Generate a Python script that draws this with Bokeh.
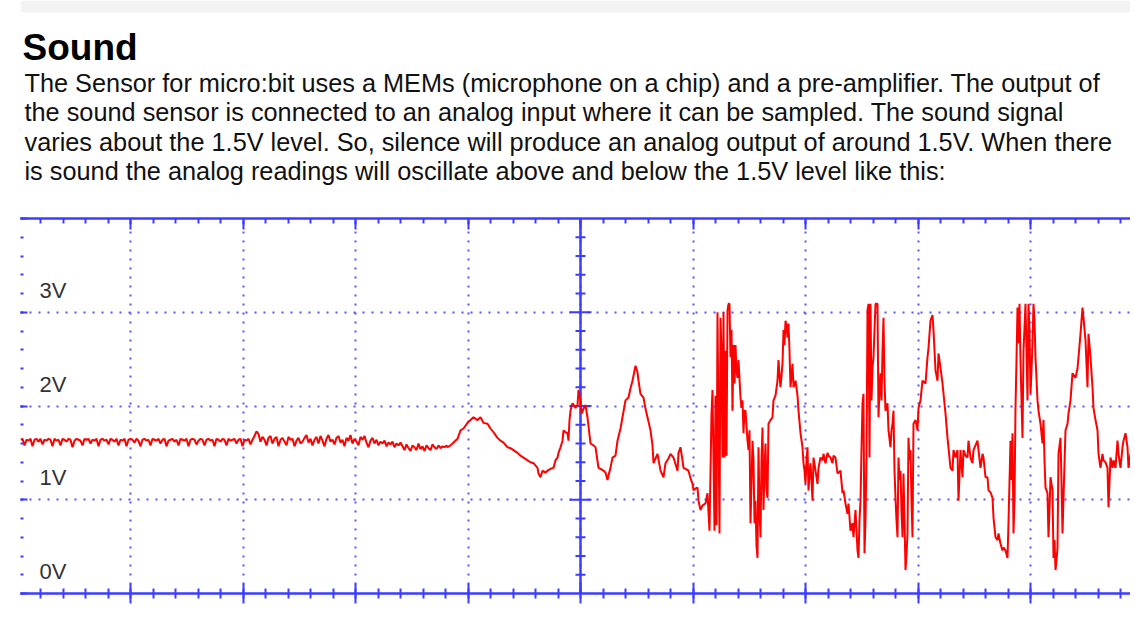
from bokeh.plotting import figure
from bokeh.layouts import column
from bokeh.models import (LinearAxis, SingleIntervalTicker, CustomJSTickFormatter,
                          Span, Range1d)
from bokeh.core.properties import value
from bokeh.embed import file_html
from bokeh.resources import INLINE

# ---------------- text content ----------------
title_text = "Sound"
paragraph_lines = [
    "The Sensor for micro:bit uses a MEMs (microphone on a chip) and a pre-amplifier. The output of",
    "the sound sensor is connected to an analog input where it can be sampled. The sound signal",
    "varies about the 1.5V level. So, silence will produce an analog output of around 1.5V. When there",
    "is sound the analog readings will oscillate above and below the 1.5V level like this:",
]
volt_levels = [0, 1, 2, 3]
volt_labels = ["0V", "1V", "2V", "3V"]

# ---------------- trace data (time in ms, voltage in V) ----------------
t_quiet = [
    -5.60, -5.58, -5.56, -5.54, -5.52, -5.50, -5.48, -5.46, -5.44, -5.42,
    -5.40, -5.38, -5.36, -5.34, -5.32, -5.30, -5.28, -5.26, -5.24, -5.22,
    -5.20, -5.18, -5.16, -5.14, -5.12, -5.10, -5.08, -5.06, -5.04, -5.02,
    -5.00, -4.98, -4.96, -4.94, -4.92, -4.90, -4.88, -4.86, -4.84, -4.82,
    -4.80, -4.78, -4.76, -4.74, -4.72, -4.70, -4.68, -4.66, -4.64, -4.62,
    -4.60, -4.58, -4.56, -4.54, -4.52, -4.50, -4.48, -4.46, -4.44, -4.42,
    -4.40, -4.38, -4.36, -4.34, -4.32, -4.30, -4.28, -4.26, -4.24, -4.22,
    -4.20, -4.18, -4.16, -4.14, -4.12, -4.10, -4.08, -4.06, -4.04, -4.02,
    -4.00, -3.98, -3.96, -3.94, -3.92, -3.90, -3.88, -3.86, -3.84, -3.82,
    -3.80, -3.78, -3.76, -3.74, -3.72, -3.70, -3.68, -3.66, -3.64, -3.62,
    -3.60, -3.58, -3.56, -3.54, -3.52, -3.50, -3.48, -3.46, -3.44, -3.42,
    -3.40, -3.38, -3.36, -3.34, -3.32, -3.30, -3.28, -3.26, -3.24, -3.22,
    -3.20, -3.18, -3.16, -3.14, -3.12, -3.10, -3.08, -3.06, -3.04, -3.02,
    -3.00, -2.98, -2.96, -2.94, -2.92, -2.90, -2.88, -2.86, -2.84, -2.82,
    -2.80, -2.78, -2.76, -2.74, -2.72, -2.70, -2.68, -2.66, -2.64, -2.62,
    -2.60, -2.58, -2.56, -2.54, -2.52, -2.50, -2.48, -2.46, -2.44, -2.42,
    -2.40, -2.38, -2.36, -2.34, -2.32, -2.30, -2.28, -2.26, -2.24, -2.22,
    -2.20, -2.18, -2.16, -2.14, -2.12, -2.10, -2.08, -2.06, -2.04, -2.02,
    -2.00, -1.98, -1.96, -1.94, -1.92, -1.90, -1.88, -1.86, -1.84, -1.82,
    -1.80, -1.78, -1.76, -1.74, -1.72, -1.70, -1.68, -1.66, -1.64, -1.62,
    -1.60, -1.58, -1.56, -1.54, -1.52, -1.50, -1.48, -1.46, -1.44, -1.42,
    -1.40, -1.38, -1.36, -1.34,
]
v_quiet = [
    1.64, 1.65, 1.58, 1.64, 1.63, 1.65, 1.57, 1.64, 1.65, 1.62,
    1.65, 1.59, 1.64, 1.63, 1.65, 1.64, 1.57, 1.65, 1.63, 1.64,
    1.58, 1.65, 1.64, 1.62, 1.65, 1.64, 1.56, 1.63, 1.65, 1.64,
    1.63, 1.58, 1.65, 1.64, 1.65, 1.60, 1.64, 1.63, 1.65, 1.57,
    1.64, 1.65, 1.63, 1.64, 1.59, 1.65, 1.64, 1.62, 1.65, 1.58,
    1.64, 1.63, 1.65, 1.57, 1.64, 1.65, 1.64, 1.61, 1.65, 1.63,
    1.57, 1.64, 1.65, 1.63, 1.64, 1.58, 1.65, 1.64, 1.63, 1.65,
    1.60, 1.64, 1.65, 1.57, 1.63, 1.64, 1.65, 1.62, 1.64, 1.58,
    1.65, 1.64, 1.63, 1.65, 1.57, 1.64, 1.65, 1.64, 1.59, 1.63,
    1.65, 1.64, 1.58, 1.64, 1.65, 1.63, 1.64, 1.57, 1.65, 1.64,
    1.62, 1.65, 1.64, 1.58, 1.65, 1.63, 1.64, 1.65, 1.60, 1.64,
    1.65, 1.57, 1.64, 1.63, 1.65, 1.59,
    1.64, 1.68, 1.73, 1.70, 1.62, 1.67, 1.64, 1.58, 1.66, 1.68,
    1.60, 1.65, 1.67, 1.57, 1.64, 1.66, 1.62, 1.58, 1.67, 1.64,
    1.65, 1.57, 1.63, 1.66, 1.60,
    1.62, 1.66, 1.69, 1.61, 1.65, 1.58, 1.64, 1.67, 1.60, 1.68,
    1.63, 1.57, 1.65, 1.69, 1.62, 1.64, 1.59, 1.66, 1.68, 1.61,
    1.64, 1.57, 1.66, 1.63, 1.69, 1.60, 1.65, 1.62, 1.58, 1.67,
    1.64, 1.68, 1.61, 1.56, 1.63, 1.66, 1.60, 1.64, 1.58, 1.62,
    1.60, 1.63, 1.57, 1.61, 1.59, 1.62, 1.56, 1.60, 1.58, 1.61,
    1.57, 1.53, 1.59, 1.55, 1.52, 1.58, 1.56, 1.53, 1.60, 1.54,
    1.57, 1.52, 1.58, 1.55, 1.53, 1.59, 1.56, 1.54, 1.58, 1.55,
    1.57, 1.56, 1.58,
]

t_active = [
    -1.33, -1.30, -1.27, -1.23, -1.20, -1.17, -1.13, -1.10, -1.07, -1.03,
    -1.00, -0.97, -0.93, -0.90, -0.87, -0.83, -0.80, -0.77, -0.73, -0.70,
    -0.67, -0.63, -0.60, -0.57, -0.53, -0.50, -0.47, -0.43, -0.42, -0.40,
    -0.38, -0.35, -0.33, -0.30, -0.27, -0.25, -0.23, -0.22, -0.20, -0.18,
    -0.17, -0.15, -0.13, -0.12, -0.11, -0.10, -0.08, -0.05, -0.03, -0.02,
    0.00, 0.01, 0.03, 0.05, 0.07, 0.10, 0.13, 0.15, 0.18, 0.20,
    0.23, 0.25, 0.27, 0.28, 0.30, 0.32, 0.35, 0.37, 0.40, 0.42,
    0.45, 0.48, 0.50, 0.52, 0.55, 0.57, 0.58, 0.60, 0.63, 0.65,
    0.67, 0.70, 0.72, 0.73, 0.75, 0.77, 0.80, 0.83, 0.85, 0.88,
    0.90, 0.93, 0.97, 0.98, 1.00, 1.02, 1.03, 1.05, 1.08, 1.10,
    1.12, 1.13, 1.15, 1.17, 1.18, 1.20, 1.22, 1.25, 1.27, 1.29,
    1.31, 1.32, 1.34, 1.35, 1.36, 1.37, 1.39, 1.40, 1.41, 1.42,
    1.43, 1.44, 1.45, 1.46, 1.47, 1.48, 1.49, 1.50, 1.51, 1.52,
    1.53, 1.54, 1.55, 1.56, 1.57, 1.58, 1.60, 1.61, 1.62, 1.63,
    1.64, 1.65, 1.67, 1.68, 1.69, 1.70, 1.71, 1.72, 1.73, 1.74,
    1.75, 1.76, 1.77, 1.78, 1.79, 1.80, 1.81, 1.82, 1.83, 1.84,
    1.85, 1.86, 1.87, 1.88, 1.90, 1.92, 1.93, 1.95, 1.97, 1.98,
    1.99, 2.00, 2.02, 2.03, 2.04, 2.05, 2.06, 2.07, 2.08, 2.09,
    2.10, 2.11, 2.12, 2.13, 2.15, 2.17, 2.18, 2.20, 2.22, 2.23,
    2.24, 2.25, 2.26, 2.27, 2.28, 2.29, 2.30, 2.31, 2.32, 2.33,
    2.35, 2.37, 2.38, 2.40, 2.42, 2.43, 2.45, 2.47, 2.48, 2.50,
    2.52, 2.53, 2.55, 2.57, 2.60, 2.62, 2.63, 2.65, 2.67, 2.68,
    2.70, 2.72, 2.73, 2.75, 2.77, 2.78, 2.79, 2.80, 2.81, 2.82,
    2.83, 2.84, 2.85, 2.86, 2.87, 2.88, 2.89, 2.90, 2.91, 2.92,
    2.93, 2.94, 2.95, 2.97, 2.98, 2.99, 3.00, 3.01, 3.02, 3.03,
    3.04, 3.05, 3.07, 3.08, 3.10, 3.11, 3.12, 3.13, 3.14, 3.15,
    3.16, 3.17, 3.18, 3.19, 3.20, 3.21, 3.22, 3.23, 3.24, 3.25,
    3.26, 3.27, 3.28, 3.29, 3.30, 3.31, 3.32, 3.33, 3.35, 3.37,
    3.38, 3.40, 3.42, 3.45, 3.47, 3.48, 3.50, 3.52, 3.53, 3.55,
    3.57, 3.58, 3.60, 3.62, 3.65, 3.67, 3.70, 3.72, 3.73, 3.75,
    3.77, 3.78, 3.80, 3.82, 3.83, 3.85, 3.87, 3.88, 3.90, 3.92,
    3.93, 3.95, 3.97, 3.98, 4.00, 4.02, 4.03, 4.05, 4.07, 4.08,
    4.10, 4.12, 4.13, 4.15, 4.17, 4.18, 4.20, 4.22, 4.23, 4.25,
    4.27, 4.28, 4.30, 4.31, 4.32, 4.33, 4.34, 4.35, 4.36, 4.37,
    4.38, 4.39, 4.40, 4.41, 4.42, 4.43, 4.45, 4.46, 4.47, 4.48,
    4.49, 4.50, 4.51, 4.52, 4.53, 4.54, 4.55, 4.57, 4.58, 4.60,
    4.62, 4.63, 4.64, 4.65, 4.67, 4.68, 4.69, 4.70, 4.72, 4.73,
    4.74, 4.75, 4.76, 4.77, 4.78, 4.80, 4.81, 4.82, 4.83, 4.85,
    4.87, 4.88, 4.90, 4.92, 4.95, 4.97, 4.98, 5.00, 5.02, 5.03,
    5.05, 5.07, 5.08, 5.10, 5.12, 5.13, 5.15, 5.17, 5.18, 5.20,
    5.22, 5.23, 5.25, 5.27, 5.28, 5.30, 5.32, 5.33, 5.35, 5.37,
    5.38, 5.40, 5.42, 5.43, 5.45, 5.47, 5.48, 5.50,
]
v_active = [
    1.56, 1.58, 1.61, 1.65, 1.74, 1.76, 1.82, 1.85, 1.88, 1.85,
    1.88, 1.82, 1.81, 1.76, 1.72, 1.66, 1.63, 1.61, 1.56, 1.55,
    1.53, 1.50, 1.47, 1.45, 1.42, 1.40, 1.39, 1.34, 1.28, 1.24,
    1.31, 1.29, 1.31, 1.33, 1.34, 1.42, 1.45, 1.50, 1.56, 1.63,
    1.74, 1.72, 1.71, 1.63, 1.85, 1.95, 2.03, 1.98, 2.01, 2.17,
    2.06, 1.92, 1.97, 2.01, 1.88, 1.60, 1.58, 1.56, 1.34, 1.33,
    1.31, 1.29, 1.21, 1.26, 1.34, 1.45, 1.47, 1.63, 1.76, 1.88,
    2.06, 2.09, 2.19, 2.27, 2.43, 2.36, 2.27, 2.13, 2.09, 1.97,
    1.88, 1.74, 1.58, 1.39, 1.44, 1.49, 1.31, 1.24, 1.39, 1.44,
    1.49, 1.45, 1.31, 1.50, 1.56, 1.42, 1.34, 1.33, 1.31, 1.23,
    1.17, 1.10, 1.12, 1.13, 0.99, 0.89, 0.94, 0.96, 1.07, 0.67,
    1.92, 2.17, 0.67, 2.11, 0.73, 3.00, 0.64, 2.94, 2.57, 1.45,
    3.00, 1.45, 2.59, 1.47, 3.02, 3.09, 3.09, 2.52, 2.81, 1.95,
    2.65, 2.24, 2.65, 2.38, 2.30, 2.49, 2.09, 1.98, 2.06, 1.71,
    1.95, 1.95, 1.63, 1.53, 1.74, 0.75, 1.17, 1.63, 1.42, 0.75,
    0.99, 0.51, 0.38, 1.56, 0.89, 0.60, 1.42, 1.77, 0.89, 1.31,
    1.60, 1.10, 1.02, 1.81, 1.85, 1.88, 2.06, 2.11, 2.27, 2.49,
    2.33, 2.20, 2.45, 2.81, 2.65, 2.91, 2.86, 2.73, 2.88, 2.59,
    2.20, 2.33, 2.45, 2.20, 2.27, 2.11, 1.95, 1.71, 1.56, 1.39,
    1.31, 1.17, 1.42, 1.56, 1.10, 1.26, 1.39, 1.21, 0.99, 1.45,
    1.31, 1.17, 1.34, 1.45, 1.42, 1.49, 1.39, 1.50, 1.47, 1.45,
    1.39, 1.47, 1.45, 1.28, 1.31, 1.07, 1.10, 0.96, 0.85, 0.96,
    0.67, 0.75, 0.60, 0.89, 0.46, 0.38, 0.78, 0.99, 1.53, 2.03,
    2.13, 0.43, 0.78, 1.45, 3.02, 3.09, 1.45, 3.09, 2.06, 2.41,
    2.52, 2.81, 3.09, 3.09, 1.88, 2.17, 2.35, 2.06, 2.59, 2.94,
    2.27, 1.95, 2.03, 1.74, 1.56, 1.74, 1.81, 1.95, 1.31, 1.02,
    0.78, 0.60, 1.45, 1.21, 1.31, 0.89, 0.60, 1.28, 0.78, 0.25,
    0.41, 0.64, 1.66, 1.42, 1.53, 0.99, 0.60, 1.81, 1.85, 1.74,
    1.98, 2.06, 2.27, 2.24, 2.52, 2.62, 2.91, 2.97, 2.81, 2.38,
    2.27, 2.56, 2.41, 2.24, 1.92, 1.66, 1.34, 1.31, 1.53, 1.45,
    1.53, 0.99, 1.53, 1.24, 1.53, 1.47, 1.45, 1.63, 1.45, 1.39,
    1.53, 1.58, 1.63, 1.53, 1.34, 1.49, 1.45, 1.24, 1.24, 1.10,
    1.08, 1.02, 0.81, 0.60, 0.57, 0.64, 0.53, 0.46, 0.49, 0.46,
    0.38, 0.75, 1.63, 1.21, 1.71, 0.64, 0.99, 1.98, 2.49, 3.05,
    2.67, 3.09, 2.49, 2.06, 1.66, 2.59, 3.09, 2.59, 2.06, 3.09,
    2.81, 2.13, 2.38, 2.67, 3.09, 2.91, 2.52, 2.06, 1.95, 1.81,
    1.60, 1.85, 1.42, 1.13, 1.07, 0.60, 0.89, 1.24, 1.10, 0.38,
    0.57, 0.25, 0.35, 0.49, 1.49, 1.66, 1.21, 0.64, 1.02, 1.74,
    1.81, 1.92, 2.06, 2.35, 2.30, 2.40, 2.52, 2.77, 3.05, 2.94,
    2.70, 2.20, 2.77, 2.52, 2.20, 1.98, 1.85, 1.74, 1.49, 1.34,
    1.49, 1.42, 1.40, 1.34, 0.92, 1.45, 1.34, 1.42, 1.34, 1.63,
    1.49, 1.34, 1.56, 1.63, 1.71, 1.56, 1.34, 1.49,
]

time_ms = t_quiet + t_active
volts = v_quiet + v_active

# ---------------- styling / layout ----------------
MS_PER_DIV = 1.125
V_PER_DIV = 1.0
T_START, T_END = -5.60, 5.50
V_MIN, V_MAX = 0.0, 4.0

BLUE = "#3c3cff"
DOT_BLUE = "#5555ff"
RED = "#ff0000"
FONT = "Liberation Sans"

PAGE_W = 1130
TEXT_H = 200
SCOPE_H = 413
FRAME_LEFT = 20          # shared left border (column aligns both frames)

# ---------------- heading + paragraph (own SVG figure, pixel space) ----------------
tp = figure(width=PAGE_W, height=TEXT_H, x_range=Range1d(FRAME_LEFT, PAGE_W),
            y_range=Range1d(TEXT_H, 0), x_axis_location=None, y_axis_location=None,
            title_location=None,
            toolbar_location=None, tools="", output_backend="svg",
            min_border_left=FRAME_LEFT, min_border_right=0,
            min_border_top=0, min_border_bottom=0, outline_line_color=None,
            background_fill_color="white", border_fill_color="white")
tp.grid.visible = False

# light shaded page edge at the top
SHADE_H = 12
tp.quad(left=[FRAME_LEFT], right=[PAGE_W], top=[0], bottom=[SHADE_H],
        fill_color="#f3f3f3", line_color=None)

# positions in page pixels (text anchor sits ~0.39 em above the drawn baseline)
TITLE_X, TITLE_Y = 22.0, 47.0
PARA_X, PARA_Y, PARA_STEP = 24.0, 82.2, 29.5
tp.text(x=[TITLE_X], y=[TITLE_Y], text=[title_text],
        text_font=value(FONT), text_font_size="37px", text_font_style="bold",
        text_color="#000000", text_baseline="alphabetic", text_align="left")
tp.text(x=[PARA_X] * len(paragraph_lines),
        y=[PARA_Y + PARA_STEP * i for i in range(len(paragraph_lines))],
        text=paragraph_lines, text_font=value(FONT), text_font_size="25.3px",
        text_color="#111111", text_baseline="alphabetic", text_align="left")

# ---------------- oscilloscope figure ----------------
p = figure(width=PAGE_W, height=SCOPE_H,
           x_range=Range1d(T_START, T_END), y_range=Range1d(V_MIN, V_MAX),
           x_axis_location=None, y_axis_location=None, title_location=None,
           toolbar_location=None, tools="", output_backend="svg",
           min_border_left=FRAME_LEFT, min_border_right=0,
           min_border_top=18, min_border_bottom=20,
           outline_line_color=None,
           background_fill_color="white", border_fill_color="white")

empty_fmt = CustomJSTickFormatter(code="return ''")
xt = SingleIntervalTicker(interval=MS_PER_DIV, num_minor_ticks=5)
yt = SingleIntervalTicker(interval=V_PER_DIV, num_minor_ticks=5)

# dotted graticule
p.xgrid.ticker = xt
p.ygrid.ticker = yt
p.grid.grid_line_color = DOT_BLUE
p.grid.grid_line_width = 2
p.grid.grid_line_dash = "2 7"
p.grid.grid_line_alpha = 1.0

def scope_axis(**kw):
    ax = LinearAxis(formatter=empty_fmt, major_label_standoff=0,
                    axis_line_color=BLUE, axis_line_width=2.5,
                    major_tick_line_color=BLUE, major_tick_line_width=2,
                    minor_tick_line_color=BLUE, minor_tick_line_width=2)
    for k, v in kw.items():
        setattr(ax, k, v)
    return ax

p.add_layout(scope_axis(ticker=xt, major_tick_in=10, major_tick_out=10,
                        minor_tick_in=5, minor_tick_out=5), "below")
p.add_layout(scope_axis(ticker=xt, major_tick_in=11, major_tick_out=0,
                        minor_tick_in=5, minor_tick_out=0), "above")
p.add_layout(scope_axis(ticker=yt, axis_line_color=None, major_tick_in=7,
                        major_tick_out=0, minor_tick_in=3, minor_tick_out=0), "left")

# centre vertical axis of the graticule
p.add_layout(Span(location=0, dimension="height", line_color=BLUE,
                  line_width=2.5, level="underlay"))
minor_marks = [k * V_PER_DIV / 5 for k in range(1, 20) if k % 5]
major_marks = [k * V_PER_DIV for k in range(1, 4)]
p.scatter(x=[0] * len(minor_marks), y=minor_marks, marker="dash", size=10,
          line_color=BLUE, line_width=2)
p.scatter(x=[0] * len(major_marks), y=major_marks, marker="dash", size=22,
          line_color=BLUE, line_width=2)

# voltage labels inside the screen
p.text(x=[T_START] * len(volt_levels), y=volt_levels, text=volt_labels,
       x_offset=19, y_offset=-22, text_font=value(FONT), text_font_size="22px",
       text_color="#333333", text_baseline="alphabetic", text_align="left")

# the signal
p.line(time_ms, volts, line_color=RED, line_width=2)

layout = column(tp, p, spacing=0)
open("out.html", "w").write(file_html(layout, INLINE))
